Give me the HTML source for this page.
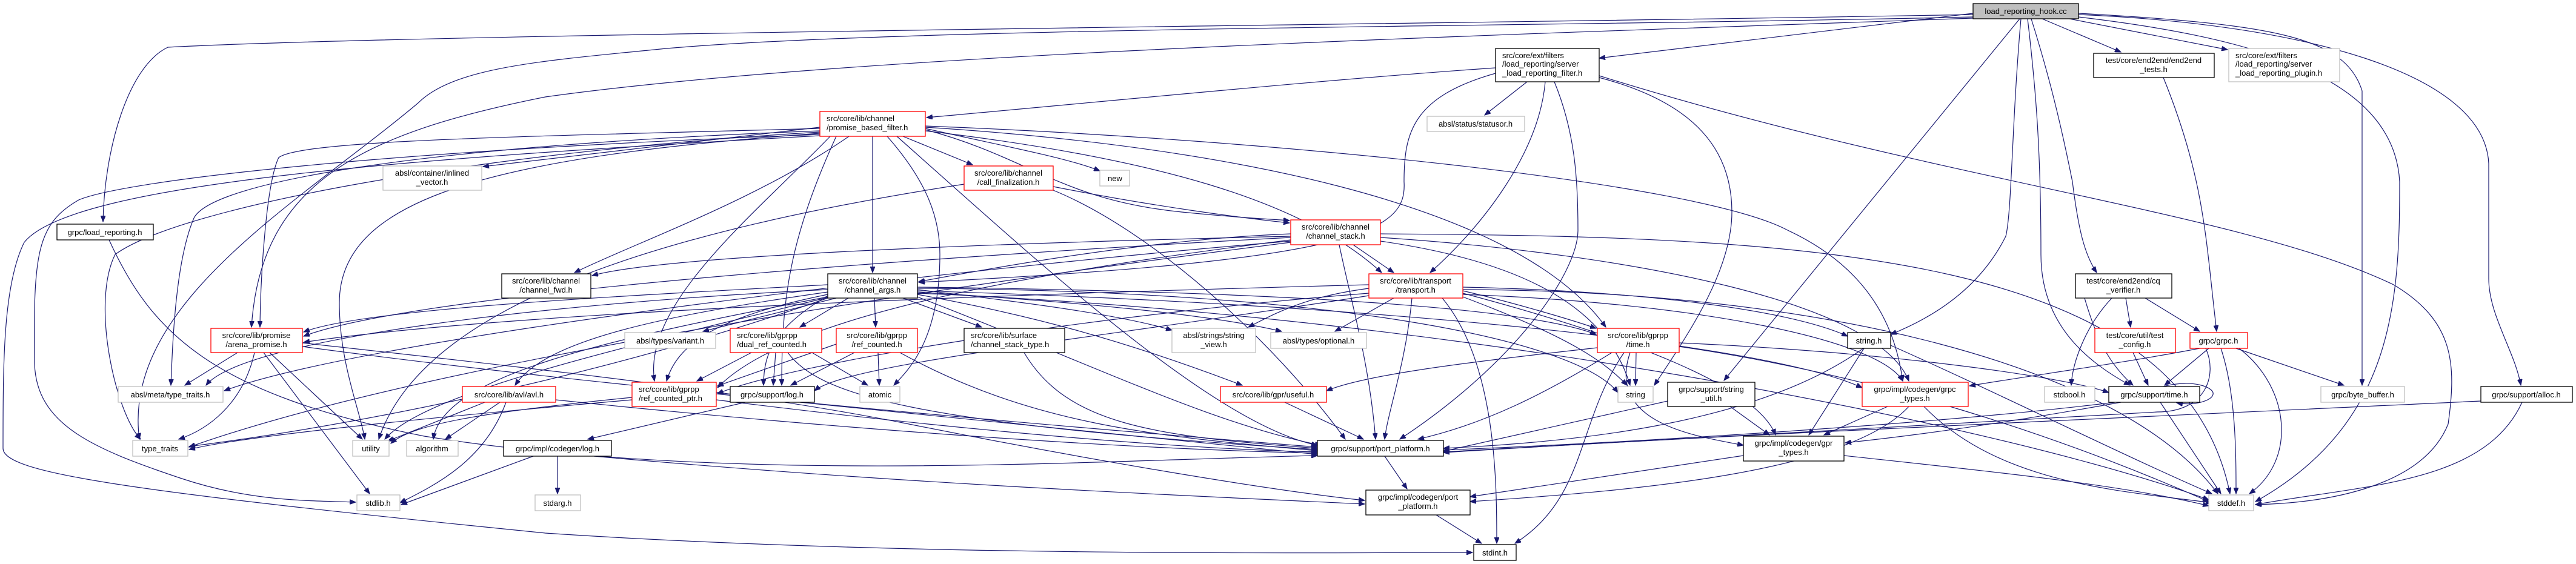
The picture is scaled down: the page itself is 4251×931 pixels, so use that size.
<!DOCTYPE html>
<html><head><meta charset="utf-8"><style>
html,body{margin:0;padding:0;background:#fff;}
svg{display:block;}
text{font-family:"Liberation Sans",Arial,sans-serif;font-size:13px;fill:#000;}
.e{fill:none;stroke:#191970;stroke-width:1.2;marker-end:url(#a);}
.r{fill:#fff;stroke:#ff0000;stroke-width:1.3;}
.b{fill:#fff;stroke:#000;stroke-width:1.3;}
.g{fill:#fff;stroke:#bfbfbf;stroke-width:1.3;}
.c{text-anchor:middle;}
</style></head><body>
<svg width="4251" height="931" viewBox="0 0 4251 931" xmlns="http://www.w3.org/2000/svg">
<defs><marker id="a" markerUnits="userSpaceOnUse" markerWidth="11" markerHeight="8" refX="10" refY="4" orient="auto"><path d="M0,0 L10,4 L0,8 z" fill="#191970" stroke="#191970"/></marker></defs>
<g>
<path class="e" d="M3256,24 C2400,40 700,55 277,78 C210,110 172,250 170,366"/>
<path class="e" d="M3256,22 L2639,96"/>
<path class="e" d="M3370,31 L3500,86"/>
<path class="e" d="M3415,31 L3676,82"/>
<path class="e" d="M3256,28 C2500,45 1500,45 1100,80 C900,100 750,110 690,170 C500,330 200,500 230,725"/>
<path class="e" d="M3256,30 C2400,60 1400,90 900,160 C600,220 430,300 415,540"/>
<path class="e" d="M3333,31 L2845,628"/>
<path class="e" d="M3335,31 C3320,200 3320,350 3310,390 C3270,470 3200,520 3120,552"/>
<path class="e" d="M3346,31 C3360,150 3368,250 3368,420 C3368,540 3450,600 3515,636"/>
<path class="e" d="M3352,31 C3380,120 3400,200 3420,300 C3430,380 3440,420 3460,450"/>
<path class="e" d="M3430,22 C3750,40 3870,60 3898,150 L3898,636"/>
<path class="e" d="M3430,24 C3800,40 4100,120 4107,270 L4107,460 C4107,520 4150,580 4160,636"/>
<path class="e" d="M3430,28 C3700,60 3950,120 3960,300 C3960,500 3950,700 3722,828"/>
<path class="e" d="M2520,135 L2450,190"/>
<path class="e" d="M2550,135 C2540,250 2450,370 2360,450"/>
<path class="e" d="M2565,135 C2600,220 2604,300 2604,380 C2604,450 2500,600 2310,725"/>
<path class="e" d="M2468,112 C2200,130 1800,170 1529,194"/>
<path class="e" d="M2468,121 C2330,160 2317,220 2317,300 C2322,380 2250,430 1516,466"/>
<path class="e" d="M2639,128 C2800,170 2858,250 2858,350 C2858,450 2780,560 2730,636"/>
<path class="e" d="M2639,125 C3200,300 3700,350 3950,470 C4050,530 4054,600 4040,700 C4000,800 3850,830 3722,833"/>
<path class="e" d="M1440,225 L1440,450"/>
<path class="e" d="M1490,225 L1605,272"/>
<path class="e" d="M1527,212 C1650,240 1760,260 1815,282"/>
<path class="e" d="M1527,214 C1700,260 1750,330 1950,350 C2050,360 2100,362 2128,364"/>
<path class="e" d="M1401,225 C1250,330 1050,400 948,450"/>
<path class="e" d="M1353,212 C900,225 500,230 460,260 C440,300 430,450 429,540"/>
<path class="e" d="M1353,216 C700,240 350,300 320,360 C290,430 285,560 282,636"/>
<path class="e" d="M1353,218 C800,250 300,340 190,420 C150,500 190,680 232,725"/>
<path class="e" d="M1353,220 C800,260 560,330 560,500 C560,600 595,680 602,725"/>
<path class="e" d="M1353,222 C600,250 200,300 130,330 C60,370 55,420 57,600 C60,700 150,740 300,790 C420,830 520,826 587,829"/>
<path class="e" d="M1353,224 C700,260 120,300 40,400 C5,470 5,600 5,740 C5,780 200,810 900,880 C1500,920 2200,912 2430,912"/>
<path class="e" d="M1527,216 C1900,260 2150,330 2280,450"/>
<path class="e" d="M1527,210 C2000,240 2500,330 2650,540"/>
<path class="e" d="M1527,208 C2100,230 2800,300 2950,380 C3100,450 3130,560 3140,629"/>
<path class="e" d="M1464,225 C1530,300 1551,360 1551,420 C1551,560 1500,610 1475,636"/>
<path class="e" d="M1480,225 C1700,420 2000,700 2174,735"/>
<path class="e" d="M1380,225 C1300,400 1290,500 1290,636"/>
<path class="e" d="M1370,225 C1250,350 1060,500 1080,629"/>
<path class="e" d="M1353,210 L797,275"/>
<path class="e" d="M1738,308 C1900,340 2050,360 2128,368"/>
<path class="e" d="M1591,304 C1100,380 700,500 625,725"/>
<path class="e" d="M1738,314 C1900,380 2100,560 2220,725"/>
<path class="e" d="M2233,404 L2300,450"/>
<path class="e" d="M2130,386 C1900,395 1650,440 1516,465"/>
<path class="e" d="M2130,390 C1700,400 1100,420 977,455"/>
<path class="e" d="M2130,392 C1600,420 700,480 501,555"/>
<path class="e" d="M2130,396 C1700,450 1300,520 1184,640"/>
<path class="e" d="M2210,404 C2230,500 2260,600 2270,725"/>
<path class="e" d="M2278,386 C3000,390 3600,420 3680,815"/>
<path class="e" d="M2278,392 C2700,420 3100,500 3150,629"/>
<path class="e" d="M2278,398 C2500,430 2650,500 2690,636"/>
<path class="e" d="M2130,400 C1500,480 700,600 312,738"/>
<path class="e" d="M2130,398 C1500,450 600,560 370,645"/>
<path class="e" d="M1443,492 L1445,540"/>
<path class="e" d="M1490,492 L1620,540"/>
<path class="e" d="M1514,478 C1700,500 1850,520 1934,545"/>
<path class="e" d="M1514,482 C1800,500 2000,520 2115,547"/>
<path class="e" d="M1514,486 C1700,520 1850,560 2050,636"/>
<path class="e" d="M1514,474 C2000,480 2500,500 2634,552"/>
<path class="e" d="M1366,470 C1000,490 600,510 501,548"/>
<path class="e" d="M1400,492 L1320,540"/>
<path class="e" d="M1380,492 L1160,547"/>
<path class="e" d="M1366,482 C1100,520 900,560 850,636"/>
<path class="e" d="M1366,486 C1200,520 1120,560 1100,629"/>
<path class="e" d="M1366,488 C1280,540 1260,580 1260,636"/>
<path class="e" d="M1366,490 C1000,560 730,620 715,725"/>
<path class="e" d="M1366,491 C1000,580 700,650 635,725"/>
<path class="e" d="M1366,492 C1000,620 600,700 312,737"/>
<path class="e" d="M1366,478 C900,500 400,560 340,636"/>
<path class="e" d="M1514,490 C1800,600 2000,700 2180,735"/>
<path class="e" d="M1514,476 C2200,480 2600,560 2670,648"/>
<path class="e" d="M1514,480 C2200,500 2900,560 3073,640"/>
<path class="e" d="M1514,484 C2400,520 3300,700 3645,825"/>
<path class="e" d="M2259,470 C1500,490 800,520 501,565"/>
<path class="e" d="M2300,492 L2203,547"/>
<path class="e" d="M2259,476 C2150,490 2100,520 2060,540"/>
<path class="e" d="M2330,492 C2320,600 2290,680 2285,725"/>
<path class="e" d="M2380,492 C2470,600 2470,800 2470,897"/>
<path class="e" d="M2414,480 C2500,500 2600,530 2634,542"/>
<path class="e" d="M2259,484 C1800,520 1300,600 1184,650"/>
<path class="e" d="M2414,486 C2800,500 3100,560 3140,629"/>
<path class="e" d="M2414,474 C2700,480 2950,510 3049,555"/>
<path class="e" d="M2414,478 C3000,480 3500,600 3660,815"/>
<path class="e" d="M2414,490 C2600,560 2650,600 2685,636"/>
<path class="e" d="M2259,488 C1800,560 1400,600 1344,645"/>
<path class="e" d="M2414,484 C2700,560 2900,640 2930,718"/>
<path class="e" d="M2700,582 L2699,636"/>
<path class="e" d="M2636,574 C2400,600 2250,620 2189,645"/>
<path class="e" d="M2660,582 C2550,650 2450,700 2340,725"/>
<path class="e" d="M2680,582 C2600,700 2620,820 2500,897"/>
<path class="e" d="M2690,582 C2650,700 2800,720 2877,735"/>
<path class="e" d="M2771,566 C3100,580 3400,620 3480,648"/>
<path class="e" d="M2771,572 C3100,620 3400,720 3645,828"/>
<path class="e" d="M2120,664 L2250,725"/>
<path class="e" d="M1690,582 C1760,700 1900,720 2174,740"/>
<path class="e" d="M1240,582 L1150,629"/>
<path class="e" d="M1280,582 L1276,636"/>
<path class="e" d="M1340,582 L1432,636"/>
<path class="e" d="M1300,582 C1350,650 1500,700 2174,742"/>
<path class="e" d="M1410,582 L1305,636"/>
<path class="e" d="M1449,582 L1451,636"/>
<path class="e" d="M1380,568 L1184,637"/>
<path class="e" d="M1485,582 C1700,700 1900,720 2174,744"/>
<path class="e" d="M1043,656 C800,680 680,700 645,732"/>
<path class="e" d="M1043,660 C700,690 400,720 312,742"/>
<path class="e" d="M1182,660 C1500,700 1900,740 2174,746"/>
<path class="e" d="M800,664 L640,728"/>
<path class="e" d="M825,664 L735,725"/>
<path class="e" d="M835,664 C800,760 720,800 660,830"/>
<path class="e" d="M917,660 C1300,700 1800,740 2174,748"/>
<path class="e" d="M1230,664 L970,725"/>
<path class="e" d="M1320,664 C1700,700 2000,730 2174,750"/>
<path class="e" d="M920,753 L920,815"/>
<path class="e" d="M880,753 L662,833"/>
<path class="e" d="M980,753 C1500,800 2000,820 2252,832"/>
<path class="e" d="M392,582 L305,636"/>
<path class="e" d="M420,582 C400,670 340,710 295,725"/>
<path class="e" d="M445,582 L598,725"/>
<path class="e" d="M435,582 L610,815"/>
<path class="e" d="M499,566 C800,600 1200,640 1500,700 C1800,760 2100,810 2252,826"/>
<path class="e" d="M499,572 C1000,640 1700,700 2174,738"/>
<path class="e" d="M180,396 C250,550 350,650 700,720 C1200,800 1800,760 2174,752"/>
<path class="e" d="M2285,753 L2322,807"/>
<path class="e" d="M2370,850 L2445,897"/>
<path class="e" d="M3075,575 C2900,700 2600,730 2382,740"/>
<path class="e" d="M3076,575 L2985,718"/>
<path class="e" d="M3120,570 C3300,650 3500,750 3650,815"/>
<path class="e" d="M2752,662 L2382,745"/>
<path class="e" d="M2855,671 L2920,718"/>
<path class="e" d="M3115,671 L3010,718"/>
<path class="e" d="M3150,671 C3050,780 2700,810 2426,828"/>
<path class="e" d="M3175,671 C3300,800 3500,810 3650,830"/>
<path class="e" d="M3043,752 C3300,780 3500,800 3645,835"/>
<path class="e" d="M2877,752 C2700,780 2550,800 2426,820"/>
<path class="e" d="M3490,664 C3200,700 2700,730 2382,743"/>
<path class="e" d="M3500,664 C3300,700 3150,720 3045,731"/>
<path class="e" d="M3565,664 L3665,815"/>
<path class="e" d="M3570,638 C3620,625 3655,640 3652,651 C3650,662 3620,670 3592,665"/>
<path class="e" d="M3645,575 L3572,636"/>
<path class="e" d="M3690,575 L3868,636"/>
<path class="e" d="M3665,575 C3690,650 3690,750 3690,815"/>
<path class="e" d="M3695,575 C3780,640 3790,760 3712,815"/>
<path class="e" d="M3630,575 C3500,600 3350,620 3250,637"/>
<path class="e" d="M3640,575 C3660,620 3640,680 3560,680 C3200,700 2700,730 2382,746"/>
<path class="e" d="M3570,128 C3640,300 3640,400 3658,547"/>
<path class="e" d="M3540,492 L3630,547"/>
<path class="e" d="M3508,492 L3516,540"/>
<path class="e" d="M3485,492 C3440,540 3420,600 3418,636"/>
<path class="e" d="M3440,492 C3460,560 3480,600 3520,636"/>
<path class="e" d="M3520,582 L3545,636"/>
<path class="e" d="M4094,662 C3500,690 2800,720 2382,747"/>
<path class="e" d="M4162,664 C4100,800 3900,800 3722,833"/>
</g>
<g>
<rect x="3256" y="6" width="174" height="25" fill="#bfbfbf" stroke="#000" stroke-width="1.3"/><text class="c" x="3343" y="23">load_reporting_hook.cc</text>
<rect class="b" x="94" y="370" width="159" height="26"/><text class="c" x="173" y="388">grpc/load_reporting.h</text>
<rect class="g" x="632" y="274" width="163" height="40"/><text class="c" x="713" y="290">absl/container/inlined</text><text class="c" x="713" y="305">_vector.h</text>
<rect class="r" x="348" y="542" width="151" height="40"/><text class="c" x="423" y="558">src/core/lib/promise</text><text class="c" x="423" y="573">/arena_promise.h</text>
<rect class="g" x="195" y="638" width="173" height="26"/><text class="c" x="281" y="656">absl/meta/type_traits.h</text>
<rect class="g" x="219" y="727" width="91" height="26"/><text class="c" x="264" y="745">type_traits</text>
<rect class="g" x="582" y="727" width="60" height="26"/><text class="c" x="612" y="745">utility</text>
<rect class="g" x="671" y="727" width="85" height="26"/><text class="c" x="713" y="745">algorithm</text>
<rect class="g" x="589" y="817" width="71" height="26"/><text class="c" x="624" y="835">stdlib.h</text>
<rect class="r" x="1353" y="184" width="174" height="41"/><text x="1364" y="200">src/core/lib/channel</text><text x="1364" y="215">/promise_based_filter.h</text>
<rect class="b" x="828" y="452" width="147" height="40"/><text class="c" x="901" y="468">src/core/lib/channel</text><text class="c" x="901" y="483">/channel_fwd.h</text>
<rect class="b" x="1366" y="452" width="148" height="40"/><text class="c" x="1440" y="468">src/core/lib/channel</text><text class="c" x="1440" y="483">/channel_args.h</text>
<rect class="g" x="1031" y="549" width="150" height="26"/><text class="c" x="1106" y="567">absl/types/variant.h</text>
<rect class="r" x="1205" y="542" width="151" height="40"/><text x="1216" y="558">src/core/lib/gprpp</text><text x="1216" y="573">/dual_ref_counted.h</text>
<rect class="r" x="1380" y="542" width="134" height="40"/><text class="c" x="1447" y="558">src/core/lib/gprpp</text><text class="c" x="1447" y="573">/ref_counted.h</text>
<rect class="r" x="763" y="638" width="154" height="26"/><text class="c" x="840" y="656">src/core/lib/avl/avl.h</text>
<rect class="r" x="1043" y="631" width="139" height="40"/><text x="1054" y="647">src/core/lib/gprpp</text><text x="1054" y="662">/ref_counted_ptr.h</text>
<rect class="b" x="1205" y="638" width="139" height="26"/><text class="c" x="1274" y="656">grpc/support/log.h</text>
<rect class="b" x="831" y="727" width="178" height="26"/><text class="c" x="920" y="745">grpc/impl/codegen/log.h</text>
<rect class="g" x="883" y="817" width="75" height="26"/><text class="c" x="920" y="835">stdarg.h</text>
<rect class="r" x="1591" y="274" width="147" height="40"/><text class="c" x="1664" y="290">src/core/lib/channel</text><text class="c" x="1664" y="305">/call_finalization.h</text>
<rect class="g" x="1815" y="281" width="49" height="26"/><text class="c" x="1840" y="299">new</text>
<rect class="b" x="1591" y="542" width="166" height="40"/><text x="1602" y="558">src/core/lib/surface</text><text x="1602" y="573">/channel_stack_type.h</text>
<rect class="g" x="1419" y="638" width="66" height="26"/><text class="c" x="1452" y="656">atomic</text>
<rect class="g" x="1934" y="542" width="138" height="40"/><text class="c" x="2003" y="558">absl/strings/string</text><text class="c" x="2003" y="573">_view.h</text>
<rect class="g" x="2097" y="549" width="158" height="26"/><text class="c" x="2176" y="567">absl/types/optional.h</text>
<rect class="r" x="2014" y="638" width="175" height="26"/><text class="c" x="2101" y="656">src/core/lib/gpr/useful.h</text>
<rect class="b" x="2468" y="80" width="171" height="55"/><text x="2479" y="96">src/core/ext/filters</text><text x="2479" y="110">/load_reporting/server</text><text x="2479" y="125">_load_reporting_filter.h</text>
<rect class="g" x="2355" y="192" width="161" height="25"/><text class="c" x="2435" y="209">absl/status/statusor.h</text>
<rect class="r" x="2130" y="363" width="148" height="41"/><text class="c" x="2204" y="379">src/core/lib/channel</text><text class="c" x="2204" y="394">/channel_stack.h</text>
<rect class="r" x="2259" y="452" width="155" height="40"/><text class="c" x="2336" y="468">src/core/lib/transport</text><text class="c" x="2336" y="483">/transport.h</text>
<rect class="r" x="2636" y="542" width="135" height="40"/><text class="c" x="2703" y="558">src/core/lib/gprpp</text><text class="c" x="2703" y="573">/time.h</text>
<rect class="g" x="2670" y="638" width="58" height="26"/><text class="c" x="2699" y="656">string</text>
<rect class="b" x="2752" y="631" width="144" height="40"/><text class="c" x="2824" y="647">grpc/support/string</text><text class="c" x="2824" y="662">_util.h</text>
<rect class="b" x="2174" y="727" width="208" height="26"/><text class="c" x="2278" y="745">grpc/support/port_platform.h</text>
<rect class="b" x="2254" y="809" width="172" height="41"/><text class="c" x="2340" y="825">grpc/impl/codegen/port</text><text class="c" x="2340" y="840">_platform.h</text>
<rect class="b" x="2432" y="899" width="70" height="26"/><text class="c" x="2467" y="917">stdint.h</text>
<rect class="b" x="3455" y="88" width="199" height="40"/><text class="c" x="3554" y="104">test/core/end2end/end2end</text><text class="c" x="3554" y="119">_tests.h</text>
<rect class="b" x="3425" y="452" width="159" height="40"/><text class="c" x="3504" y="468">test/core/end2end/cq</text><text class="c" x="3504" y="483">_verifier.h</text>
<rect class="b" x="3049" y="549" width="71" height="26"/><text class="c" x="3084" y="567">string.h</text>
<rect class="r" x="3073" y="631" width="175" height="40"/><text class="c" x="3160" y="647">grpc/impl/codegen/grpc</text><text class="c" x="3160" y="662">_types.h</text>
<rect class="b" x="2877" y="720" width="166" height="41"/><text class="c" x="2960" y="736">grpc/impl/codegen/gpr</text><text class="c" x="2960" y="751">_types.h</text>
<rect class="g" x="3374" y="638" width="83" height="26"/><text class="c" x="3415" y="656">stdbool.h</text>
<rect class="r" x="3457" y="542" width="133" height="40"/><text class="c" x="3523" y="558">test/core/util/test</text><text class="c" x="3523" y="573">_config.h</text>
<rect class="b" x="3480" y="638" width="150" height="26"/><text class="c" x="3555" y="656">grpc/support/time.h</text>
<rect class="g" x="3678" y="80" width="183" height="55"/><text x="3689" y="96">src/core/ext/filters</text><text x="3689" y="110">/load_reporting/server</text><text x="3689" y="125">_load_reporting_plugin.h</text>
<rect class="r" x="3614" y="549" width="95" height="26"/><text class="c" x="3661" y="567">grpc/grpc.h</text>
<rect class="g" x="3830" y="638" width="138" height="26"/><text class="c" x="3899" y="656">grpc/byte_buffer.h</text>
<rect class="b" x="4094" y="638" width="151" height="26"/><text class="c" x="4169" y="656">grpc/support/alloc.h</text>
<rect class="g" x="3645" y="817" width="74" height="26"/><text class="c" x="3682" y="835">stddef.h</text>
</g>
</svg>
</body></html>
